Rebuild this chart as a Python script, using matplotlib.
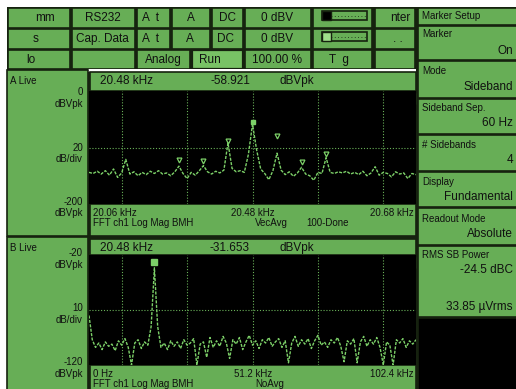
import matplotlib
matplotlib.use("Agg")
import matplotlib.pyplot as plt
from matplotlib.patches import Rectangle

# trace A: offset from 20.48 kHz in Hz, log mag dBVpk
a_off = list(range(-400, 401, 10))
a_db = [-144, -146, -142, -147, -141, -149, -138, -153, -145, -121,
        -147, -143, -150, -144, -148, -142, -146, -141, -147, -145,
        -150, -143, -133, -146, -155, -144, -149, -141, -132, -143,
        -147, -142, -145, -140, -92, -137, -143, -141, -144, -112,
        -58.9, -104, -138, -146, -157, -141, -110, -140, -148, -143,
        -151, -145, -135, -147, -150, -158, -144, -146, -118, -144,
        -146, -143, -145, -142, -147, -144, -148, -142, -150, -145,
        -134, -149, -144, -146, -152, -143, -147, -145, -155, -146, -148]
sb_off = [-180, -120, -60, 60, 120, 180]
sb_db = [-123, -124, -89, -80, -126, -111]

# trace B: 0 .. 102.4 kHz
b_khz = [i * 1.024 for i in range(101)]
b_db = [-75, -97, -104, -100, -106, -99, -103, -101, -107, -98,
        -102, -96, -104, -120, -100, -97, -105, -99, -102, -85,
        -31.65, -85, -104, -100, -106, -98, -103, -99, -105, -97,
        -102, -100, -96, -120, -101, -99, -113, -95, -104, -98,
        -103, -94, -100, -114, -97, -101, -95, -106, -99, -93,
        -102, -98, -105, -97, -100, -95, -103, -99, -96, -104,
        -98, -118, -100, -94, -103, -97, -101, -96, -105, -98,
        -93, -102, -99, -104, -97, -100, -95, -103, -117, -98,
        -101, -96, -118, -99, -94, -103, -97, -101, -95, -104,
        -120, -99, -102, -120, -97, -100, -96, -104, -98, -101, -97]

GREEN = '#67ae56'
DARK = '#16220f'
TRACE = '#7cd068'
TXT = '#101010'
FONT = 'Liberation Sans'

W, H = 516, 389
fig = plt.figure(figsize=(W / 100, H / 100), dpi=100)
fig.patch.set_facecolor('white')

bg = fig.add_axes([0, 0, 1, 1])
bg.set_xlim(0, W)
bg.set_ylim(H, 0)
bg.axis('off')

def box(x0, y0, x1, y1, fc=GREEN, ec=DARK, lw=1.2):
    bg.add_patch(Rectangle((x0, y0), x1 - x0, y1 - y0, facecolor=fc,
                           edgecolor=ec, linewidth=lw))

def txt(s, x, y, ha='left', size=8.5):
    bg.text(x, y, s, ha=ha, va='center', fontsize=size, color=TXT, family=FONT)

# base
box(7, 7, W, H, fc=DARK, lw=0)

# top status rows
cols = [(8, 70), (72, 135), (137, 170), (172, 210), (212, 243), (245, 311), (313, 372), (375, 415)]
for (r0, r1) in [(8, 28), (29, 49)]:
    for (c0, c1) in cols:
        box(c0, r0, c1, r1)
for (c0, c1) in [(8, 70), (72, 135), (137, 190), (245, 311), (313, 372), (375, 415)]:
    box(c0, 50, c1, 69)
box(192, 50, 243, 69, fc='#78c265', lw=1.6)

row1 = [("mm", 45, 'center'), ("RS232", 103, 'center'), ("A  t", 142, 'left'),
        ("A", 191, 'center'), ("DC", 227, 'center'), ("0 dBV", 277, 'center'), ("nter", 400, 'center')]
row2 = [("s", 36, 'center'), ("Cap. Data", 102, 'center'), ("A  t", 142, 'left'),
        ("A", 190, 'center'), ("DC", 226, 'center'), ("0 dBV", 277, 'center'), (". .", 398, 'center')]
row3 = [("lo", 31, 'center'), ("Analog", 163, 'center'), ("Run", 210, 'center'),
        ("100.00 %", 277, 'center'), ("T  g", 339, 'center')]
for s, x, ha in row1:
    txt(s, x, 18, ha)
for s, x, ha in row2:
    txt(s, x, 39, ha)
for s, x, ha in row3:
    txt(s, x, 60, ha)

# level meters
for yy, fill in [(11, 'black'), (32, '#9fe08a')]:
    bg.add_patch(Rectangle((322, yy), 45, 9, facecolor=GREEN, edgecolor=DARK, lw=1.2))
    bg.add_patch(Rectangle((322, yy), 9, 9, facecolor=fill, edgecolor=DARK, lw=1.0))
    bg.plot([331, 367], [yy + 4.5, yy + 4.5], color=DARK, lw=0.6, ls=(0, (1, 3)))

# white gap under the status rows
bg.add_patch(Rectangle((88, 69), 328, 3, facecolor='white', edgecolor='none'))

# right softkey panel
keys = [(8, 25), (26, 60), (61, 98), (99, 134), (135, 171), (172, 207), (208, 245), (246, 317)]
for k0, k1 in keys:
    box(418, k0, W + 2, k1)
box(418, 318, W + 2, H + 2, fc='black', ec=DARK)
txt("Marker Setup", 422, 16, size=7)
softkeys = [("Marker", "On", 34, 51), ("Mode", "Sideband", 71, 87),
            ("Sideband Sep.", "60 Hz", 108, 123), ("# Sidebands", "4", 145, 160),
            ("Display", "Fundamental", 182, 197), ("Readout Mode", "Absolute", 219, 234),
            ("RMS SB Power", "-24.5 dBC", 255, 270)]
for t, v, ty, vy in softkeys:
    txt(t, 422, ty, size=7)
    txt(v, 513, vy, 'right')
txt("33.85 \u00b5Vrms", 513, 307, 'right')

# trace panels chrome
def panel(top, bot, ptop, pbot, name, lbls, head, foot1, foot2):
    box(7, top, 88, bot)
    box(90, top + 2, 416, ptop)
    box(90, pbot, 416, bot)
    txt(name, 10, top + 11, size=7)
    for s, y in lbls:
        txt(s, 83, y, 'right', size=7)
    txt(head[0], 100, top + 11)
    txt(head[1], 250, top + 11, 'right')
    txt(head[2], 279, top + 11)
    fy = pbot + 9
    txt(foot1[0], 93, fy, size=7)
    txt(foot1[1], 253, fy, 'center', size=7)
    txt(foot1[2], 414, fy, 'right', size=7)
    for s, x in foot2:
        txt(s, x, fy + 10, size=7)
    # SRS logo
    bg.add_patch(Rectangle((398, ptop + 2), 17, 11, facecolor='black', edgecolor=TRACE, lw=0.8, zorder=5))
    bg.text(406.5, ptop + 7.5, "SRS", ha='center', va='center', fontsize=5, color=TRACE,
            family=FONT, zorder=6)

panel(70, 236, 91, 204, "A Live",
      [("0", 92), ("dBVpk", 104), ("20", 148), ("dB/div", 159), ("-200", 202), ("dBVpk", 213)],
      ("20.48 kHz", "-58.921", "dBVpk"),
      ("20.06 kHz", "20.48 kHz", "20.68 kHz"),
      [("FFT ch1 Log Mag BMH", 93), ("VecAvg", 255), ("100-Done", 306)])
panel(237, H + 2, 255, 365, "B Live",
      [("-20", 253), ("dBVpk", 265), ("10", 308), ("dB/div", 320), ("-120", 362), ("dBVpk", 374)],
      ("20.48 kHz", "-31.653", "dBVpk"),
      ("0 Hz", "51.2 kHz", "102.4 kHz"),
      [("FFT ch1 Log Mag BMH", 93), ("NoAvg", 255)])

def plot_axes(top, bot):
    ax = fig.add_axes([89 / W, 1 - bot / H, 327 / W, (bot - top) / H])
    ax.set_facecolor('black')
    ax.set_xticks([])
    ax.set_yticks([])
    for sp in ax.spines.values():
        sp.set_visible(False)
    return ax

grid_kw = dict(color=TRACE, lw=0.8, ls=(0, (1, 1.6)), alpha=0.85, zorder=1)
trace_kw = dict(color=TRACE, lw=1.0, ls=(0, (2.2, 1.0)), zorder=3)

axA = plot_axes(91, 204)
axA.set_xlim(-400, 400)
axA.set_ylim(-200, 0)
for gx in [-320, -160, 0, 160, 320]:
    axA.axvline(gx, **grid_kw)
axA.axhline(-100, **grid_kw)
axA.plot(a_off, a_db, **trace_kw)
axA.plot(sb_off, sb_db, ls='none', marker='v', ms=3.5, mfc='none', mec=TRACE, mew=0.9, zorder=4)
axA.plot([0], [-54], ls='none', marker='s', ms=3.5, color=TRACE, zorder=4)

axB = plot_axes(255, 365)
axB.set_xlim(0, 102.4)
axB.set_ylim(-120, -20)
for gx in [10.24, 30.72, 51.2, 71.68, 92.16]:
    axB.axvline(gx, **grid_kw)
axB.axhline(-70, **grid_kw)
axB.plot(b_khz, b_db, **trace_kw)
axB.plot([20.48], [-26.5], ls='none', marker='s', ms=4, color=TRACE, zorder=4)

fig.savefig('out.png', dpi=100, facecolor='white')
